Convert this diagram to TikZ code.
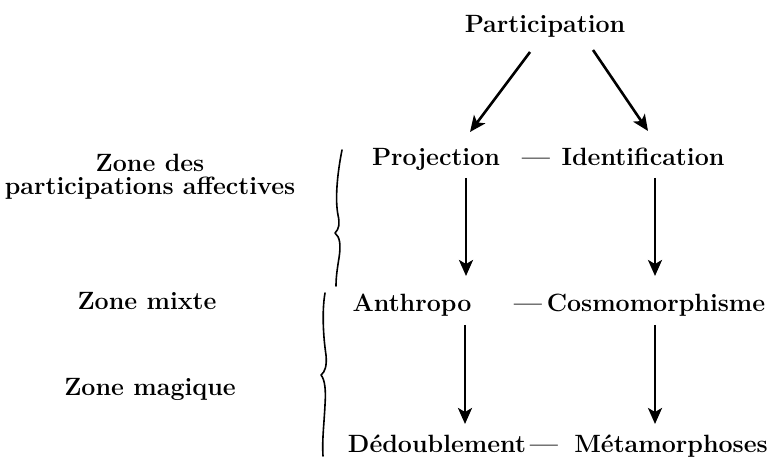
\documentclass[tikz,border=0pt]{standalone}
\usetikzlibrary{arrows.meta}
\begin{document}
\begin{tikzpicture}[x=0.5pt,y=-0.5pt,
  lbl/.style={font=\fontsize{12.5}{11.5}\selectfont\bfseries, inner sep=0pt, anchor=base},
  arr/.style={line width=1.3pt, -{Stealth[length=8pt,width=7pt,inset=2pt]}},
  brace/.style={line width=0.8pt, line cap=round, line join=round}]
\useasboundingbox (0,0) rectangle (769,458);
% main nodes
\node[lbl] (part) at (545,33) {Participation};
\node[lbl] (proj) at (436,166) {Projection};
\node[lbl] (d1) at (536,166) {---};
\node[lbl] (ident) at (643,166) {Identification};
\node[lbl] (anth) at (412,312) {Anthropo};
\node[lbl] (d2) at (528,312) {---};
\node[lbl] (cosmo) at (656,312) {Cosmomorphisme};
\node[lbl] (dedo) at (437,452) {Dédoublement};
\node[lbl] (d3) at (544,452) {---};
\node[lbl] (meta) at (671,452) {Métamorphoses};
% zone labels
\node[lbl, align=center] (zaff) at (150,195) {Zone des\\participations affectives};
\node[lbl] (zmix) at (147,310) {Zone mixte};
\node[lbl] (zmag) at (150,395) {Zone magique};
% arrow ends
\coordinate (a1s) at (530,52);  \coordinate (a1e) at (470,132);
\coordinate (a2s) at (593,50);  \coordinate (a2e) at (648,131);
\coordinate (a3s) at (466,178); \coordinate (a3e) at (466,276);
\coordinate (a4s) at (655,178); \coordinate (a4e) at (655,276);
\coordinate (a5s) at (465,325); \coordinate (a5e) at (465,424);
\coordinate (a6s) at (655,325); \coordinate (a6e) at (655,424);
\draw[arr] (a1s) -- (a1e);
\draw[arr] (a2s) -- (a2e);
\draw[arr] (a3s) -- (a3e);
\draw[arr] (a4s) -- (a4e);
\draw[arr] (a5s) -- (a5e);
\draw[arr] (a6s) -- (a6e);
% braces
\draw[brace] (342,150) .. controls (337,175) and (335,200) .. (338,215)
  .. controls (340,224) and (339,229) .. (335,233)
  .. controls (340,237) and (341,245) .. (339,258)
  .. controls (337,270) and (336,278) .. (336,286);
\draw[brace] (325,293) .. controls (322,310) and (323,335) .. (326,355)
  .. controls (327,366) and (325,372) .. (321,375)
  .. controls (325,380) and (326,390) .. (325,405)
  .. controls (324,425) and (322,440) .. (323,456);
\end{tikzpicture}
\end{document}
